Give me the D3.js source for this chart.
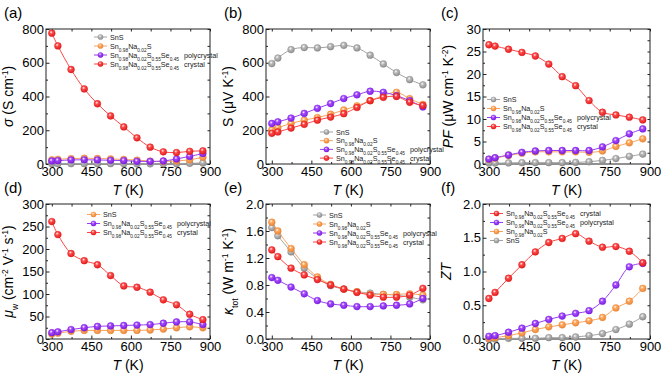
<!DOCTYPE html>
<html>
<head>
<meta charset="utf-8">
<script src="https://cdn.jsdelivr.net/npm/d3@7"></script>
<style>
  body { margin: 0; background: #fff; }
  svg { font-family: Arial, "Liberation Sans", sans-serif; }
</style>
</head>
<body>
<svg id="chart" width="661" height="375"></svg>
<script>
// temperatures shared by every panel
const temps = [300, 323, 373, 423, 473, 523, 573, 623, 673, 723, 773, 823, 873];

// (a) electrical conductivity
const sigmaSnS = [2, 2, 2, 2, 2, 2, 2, 1, 1, 1, 2, 4, 6];
const sigmaNa = [25, 28, 32, 34, 33, 30, 27, 23, 17, 15, 18, 25, 40];
const sigmaPoly = [18, 20, 24, 25, 24, 22, 20, 16, 15, 18, 30, 45, 62];
const sigmaCrystal = [775, 700, 560, 445, 357, 285, 220, 155, 100, 72, 68, 75, 78];

// (b) Seebeck coefficient
const seebSnS = [595, 628, 678, 690, 688, 695, 703, 688, 645, 593, 542, 500, 469];
const seebNa = [202, 215, 240, 260, 275, 295, 320, 345, 375, 405, 425, 387, 353];
const seebPoly = [240, 250, 272, 300, 330, 358, 388, 410, 431, 425, 405, 375, 338];
const seebCrystal = [182, 190, 213, 235, 260, 278, 298, 335, 375, 395, 400, 366, 347];

// (c) power factor
const pfSnS = [0.2, 0.2, 0.25, 0.3, 0.3, 0.3, 0.3, 0.35, 0.5, 0.8, 1.2, 1.7, 2.2];
const pfNa = [1.0, 1.3, 1.9, 2.4, 2.7, 2.7, 2.7, 2.7, 2.6, 2.9, 3.9, 4.7, 5.6];
const pfPoly = [1.1, 1.4, 2.0, 2.6, 2.9, 3.0, 3.0, 3.0, 3.0, 3.8, 5.2, 6.7, 7.8];
const pfCrystal = [26.5, 26.2, 25.5, 24.8, 24.0, 22.2, 19.4, 17.4, 14.1, 11.5, 10.9, 10.4, 9.8];

// (d) weighted mobility
const muSnS = [11, 13, 17, 19, 19, 19, 19, 19, 20, 22, 25, 27, 25];
const muPoly = [14, 16, 21, 25, 28, 29, 30, 31, 32, 35, 38, 38, 32];
const muCrystal = [261, 232, 190, 174, 165, 141, 118, 115, 104, 87, 76, 55, 43];

// (e) total thermal conductivity
const kapSnS = [1.65, 1.53, 1.29, 1.05, 0.90, 0.79, 0.74, 0.70, 0.68, 0.66, 0.65, 0.62, 0.58];
const kapNa = [1.73, 1.60, 1.34, 1.10, 0.92, 0.81, 0.74, 0.70, 0.66, 0.66, 0.66, 0.67, 0.65];
const kapPoly = [0.91, 0.87, 0.77, 0.67, 0.57, 0.52, 0.50, 0.48, 0.48, 0.49, 0.50, 0.52, 0.60];
const kapCrystal = [1.32, 1.22, 1.05, 0.95, 0.88, 0.80, 0.74, 0.69, 0.65, 0.62, 0.62, 0.65, 0.75];

// (f) figure of merit
const ztSnS = [0.0, 0.0, 0.01, 0.01, 0.01, 0.02, 0.02, 0.03, 0.05, 0.08, 0.14, 0.22, 0.33];
const ztNa = [0.01, 0.02, 0.05, 0.09, 0.14, 0.18, 0.21, 0.24, 0.27, 0.32, 0.46, 0.56, 0.75];
const ztPoly = [0.04, 0.05, 0.10, 0.16, 0.23, 0.29, 0.34, 0.38, 0.42, 0.56, 0.80, 1.07, 1.12];
const ztCrystal = [0.60, 0.69, 0.90, 1.10, 1.29, 1.43, 1.49, 1.56, 1.45, 1.36, 1.37, 1.30, 1.13];

const xTicks = [300, 450, 600, 750, 900];

// legend labels: [text, kind] where kind is "" plain, "sub" subscript, "gap" spaced word
const lblSnS = [["SnS", ""]];
const lblNa = [["Sn", ""], ["0.98", "sub"], ["Na", ""], ["0.02", "sub"], ["S", ""]];
const lblPoly = [["Sn", ""], ["0.98", "sub"], ["Na", ""], ["0.02", "sub"], ["S", ""], ["0.55", "sub"], ["Se", ""], ["0.45", "sub"], ["polycrystal", "gap"]];
const lblCrystal = [["Sn", ""], ["0.98", "sub"], ["Na", ""], ["0.02", "sub"], ["S", ""], ["0.55", "sub"], ["Se", ""], ["0.45", "sub"], ["crystal", "gap"]];

const colors = {
  grey: { line: "#a3a3a3", fill: "#b5b5b5", edge: "#8c8c8c" },
  orange: { line: "#f8a460", fill: "#ffa24f", edge: "#e8863a" },
  purple: { line: "#9a3df0", fill: "#9d3cff", edge: "#7a1ee0" },
  red: { line: "#ff4545", fill: "#ff3b3b", edge: "#e01c1c" },
};

const svg = d3.select("#chart");
const defs = svg.append("defs");

// shiny sphere markers
Object.entries(colors).forEach(([key, c]) => {
  const g = defs.append("radialGradient")
    .attr("id", "grad-" + key)
    .attr("cx", "40%").attr("cy", "35%").attr("r", "65%");
  g.append("stop").attr("offset", "0%").attr("stop-color", "#ffffff");
  g.append("stop").attr("offset", "35%").attr("stop-color", c.fill).attr("stop-opacity", 0.9);
  g.append("stop").attr("offset", "100%").attr("stop-color", c.edge);
});

const cols = [[46, 210], [266, 430], [483, 650]];
const rows = [[29, 164], [204, 339]];

function addRich(sel, parts, subSize) {
  parts.forEach(([str, kind]) => {
    const t = sel.append("tspan").text(str);
    if (kind === "sub") t.attr("font-size", subSize).attr("baseline-shift", "sub");
    if (kind === "gap") t.attr("dx", 5);
  });
}

function drawPanel({ col, row, tag, series, yDomain, yTicks, yMinor, yFmt, yTitle, titleX, legend }) {
  const [x0, x1] = cols[col];
  const [y0, y1] = rows[row];

  const x = d3.scaleLinear().domain([278, 900]).range([x0, x1]);
  const y = d3.scaleLinear().domain(yDomain).range([y1, y0]);

  const g = svg.append("g");

  // panel tag
  g.append("text")
    .attr("x", x0 - 42).attr("y", y0 - 11)
    .attr("font-size", 15)
    .text(tag);

  const xMinor = [375, 525, 675, 825];

  g.append("g")
    .attr("transform", `translate(0,${y1})`)
    .call(d3.axisBottom(x).tickValues(xTicks).tickSizeInner(-3.5).tickSizeOuter(0).tickPadding(3))
    .call(a => a.selectAll("text").attr("font-size", 13).attr("fill", "#000"));
  g.append("g")
    .attr("transform", `translate(0,${y1})`)
    .call(d3.axisBottom(x).tickValues(xMinor).tickSizeInner(-2).tickSizeOuter(0).tickFormat(""));
  g.append("g")
    .attr("transform", `translate(0,${y0})`)
    .call(d3.axisTop(x).tickValues(xTicks.concat(xMinor)).tickSizeInner(-2.5).tickSizeOuter(0).tickFormat(""));

  g.append("g")
    .attr("transform", `translate(${x0},0)`)
    .call(d3.axisLeft(y).tickValues(yTicks).tickSizeInner(-3.5).tickSizeOuter(0).tickPadding(2).tickFormat(yFmt))
    .call(a => a.selectAll("text").attr("font-size", 13).attr("fill", "#000"));
  g.append("g")
    .attr("transform", `translate(${x0},0)`)
    .call(d3.axisLeft(y).tickValues(yMinor).tickSizeInner(-2).tickSizeOuter(0).tickFormat(""));
  g.append("g")
    .attr("transform", `translate(${x1},0)`)
    .call(d3.axisRight(y).tickValues(yTicks.concat(yMinor)).tickSizeInner(-2.5).tickSizeOuter(0).tickFormat(""));

  g.selectAll(".domain").remove();
  g.selectAll(".tick line").attr("stroke", "#222");

  g.append("rect")
    .attr("x", x0).attr("y", y0)
    .attr("width", x1 - x0).attr("height", y1 - y0)
    .attr("fill", "none").attr("stroke", "#222").attr("stroke-width", 1);

  // x title
  const xt = g.append("text")
    .attr("x", (x0 + x1) / 2).attr("y", y1 + 31)
    .attr("text-anchor", "middle").attr("font-size", 14);
  xt.append("tspan").attr("font-style", "italic").text("T");
  xt.append("tspan").text(" (K)");

  // y title
  const yt = g.append("text")
    .attr("text-anchor", "middle").attr("font-size", 14)
    .attr("transform", `translate(${titleX},${(y0 + y1) / 2}) rotate(-90)`);
  yTitle.forEach(([str, kind]) => {
    const t = yt.append("tspan").text(str);
    if (kind === "i") t.attr("font-style", "italic");
    if (kind === "sup") t.attr("font-size", 8.5).attr("baseline-shift", "super");
    if (kind === "sub") t.attr("font-size", 8.5).attr("baseline-shift", "sub");
  });

  const line = d3.line()
    .x((d, i) => x(temps[i]))
    .y(d => y(d))
    .curve(d3.curveCatmullRom.alpha(0.5));

  series.forEach(s => {
    const c = colors[s.color];
    g.append("path")
      .datum(s.values)
      .attr("fill", "none")
      .attr("stroke", c.line)
      .attr("stroke-width", 1)
      .attr("d", line);
    g.selectAll(null)
      .data(s.values)
      .enter()
      .append("circle")
      .attr("cx", (d, i) => x(temps[i]))
      .attr("cy", d => y(d))
      .attr("r", 3.4)
      .attr("fill", `url(#grad-${s.color})`)
      .attr("stroke", c.edge)
      .attr("stroke-width", 0.5);
  });

  // legend
  legend.items.forEach((it, i) => {
    const c = colors[it.color];
    const ly = legend.y + i * legend.dy;
    g.append("line")
      .attr("x1", legend.x).attr("x2", legend.x + 13)
      .attr("y1", ly).attr("y2", ly)
      .attr("stroke", c.line).attr("stroke-width", 1);
    g.append("circle")
      .attr("cx", legend.x + 6.5).attr("cy", ly).attr("r", 2.6)
      .attr("fill", `url(#grad-${it.color})`)
      .attr("stroke", c.edge).attr("stroke-width", 0.4);
    const t = g.append("text")
      .attr("x", legend.x + 16).attr("y", ly + 2.5)
      .attr("font-size", 7.2).attr("fill", "#222");
    addRich(t, it.label, 4.8);
  });
}

drawPanel({
  col: 0, row: 0, tag: "(a)",
  series: [
    { values: sigmaSnS, color: "grey" },
    { values: sigmaNa, color: "orange" },
    { values: sigmaPoly, color: "purple" },
    { values: sigmaCrystal, color: "red" },
  ],
  yDomain: [0, 800], yTicks: [0, 200, 400, 600, 800], yMinor: [100, 300, 500, 700], yFmt: d3.format("d"),
  yTitle: [["σ", "i"], [" (S cm", ""], ["-1", "sup"], [")", ""]], titleX: 13,
  legend: { x: 94, y: 37, dy: 9, items: [
    { color: "grey", label: lblSnS },
    { color: "orange", label: lblNa },
    { color: "purple", label: lblPoly },
    { color: "red", label: lblCrystal },
  ] },
});

drawPanel({
  col: 1, row: 0, tag: "(b)",
  series: [
    { values: seebSnS, color: "grey" },
    { values: seebNa, color: "orange" },
    { values: seebPoly, color: "purple" },
    { values: seebCrystal, color: "red" },
  ],
  yDomain: [0, 800], yTicks: [0, 200, 400, 600, 800], yMinor: [100, 300, 500, 700], yFmt: d3.format("d"),
  yTitle: [["S", ""], [" (μV K", ""], ["-1", "sup"], [")", ""]], titleX: 233,
  legend: { x: 320, y: 132, dy: 8.7, items: [
    { color: "grey", label: lblSnS },
    { color: "orange", label: lblNa },
    { color: "purple", label: lblPoly },
    { color: "red", label: lblCrystal },
  ] },
});

drawPanel({
  col: 2, row: 0, tag: "(c)",
  series: [
    { values: pfSnS, color: "grey" },
    { values: pfNa, color: "orange" },
    { values: pfPoly, color: "purple" },
    { values: pfCrystal, color: "red" },
  ],
  yDomain: [0, 30], yTicks: [0, 5, 10, 15, 20, 25, 30], yMinor: [2.5, 7.5, 12.5, 17.5, 22.5, 27.5], yFmt: d3.format("d"),
  yTitle: [["PF", "i"], [" (μW cm", ""], ["-1", "sup"], [" K", ""], ["-2", "sup"], [")", ""]], titleX: 453,
  legend: { x: 487, y: 99.5, dy: 9, items: [
    { color: "grey", label: lblSnS },
    { color: "orange", label: lblNa },
    { color: "purple", label: lblPoly },
    { color: "red", label: lblCrystal },
  ] },
});

drawPanel({
  col: 0, row: 1, tag: "(d)",
  series: [
    { values: muSnS, color: "orange" },
    { values: muPoly, color: "purple" },
    { values: muCrystal, color: "red" },
  ],
  yDomain: [0, 300], yTicks: [0, 50, 100, 150, 200, 250, 300], yMinor: [25, 75, 125, 175, 225, 275], yFmt: d3.format("d"),
  yTitle: [["μ", "i"], ["w", "sub"], [" (cm", ""], ["-2", "sup"], [" V", ""], ["-1", "sup"], [" s", ""], ["-1", "sup"], [")", ""]], titleX: 13,
  legend: { x: 87, y: 214.5, dy: 9, items: [
    { color: "orange", label: lblSnS },
    { color: "purple", label: lblPoly },
    { color: "red", label: lblCrystal },
  ] },
});

drawPanel({
  col: 1, row: 1, tag: "(e)",
  series: [
    { values: kapSnS, color: "grey" },
    { values: kapNa, color: "orange" },
    { values: kapPoly, color: "purple" },
    { values: kapCrystal, color: "red" },
  ],
  yDomain: [0, 2], yTicks: [0, 0.4, 0.8, 1.2, 1.6, 2.0], yMinor: [0.2, 0.6, 1.0, 1.4, 1.8], yFmt: d3.format(".1f"),
  yTitle: [["κ", "i"], ["tot", "sub"], [" (W m", ""], ["-1", "sup"], [" K", ""], ["-1", "sup"], [")", ""]], titleX: 233,
  legend: { x: 313, y: 215, dy: 9, items: [
    { color: "grey", label: lblSnS },
    { color: "orange", label: lblNa },
    { color: "purple", label: lblPoly },
    { color: "red", label: lblCrystal },
  ] },
});

drawPanel({
  col: 2, row: 1, tag: "(f)",
  series: [
    { values: ztSnS, color: "grey" },
    { values: ztNa, color: "orange" },
    { values: ztPoly, color: "purple" },
    { values: ztCrystal, color: "red" },
  ],
  yDomain: [0, 2], yTicks: [0, 0.5, 1.0, 1.5, 2.0], yMinor: [0.25, 0.75, 1.25, 1.75], yFmt: d3.format(".1f"),
  yTitle: [["ZT", "i"]], titleX: 451,
  legend: { x: 490, y: 213.5, dy: 9, items: [
    { color: "red", label: lblCrystal },
    { color: "purple", label: lblPoly },
    { color: "orange", label: lblNa },
    { color: "grey", label: lblSnS },
  ] },
});
</script>
</body>
</html>
